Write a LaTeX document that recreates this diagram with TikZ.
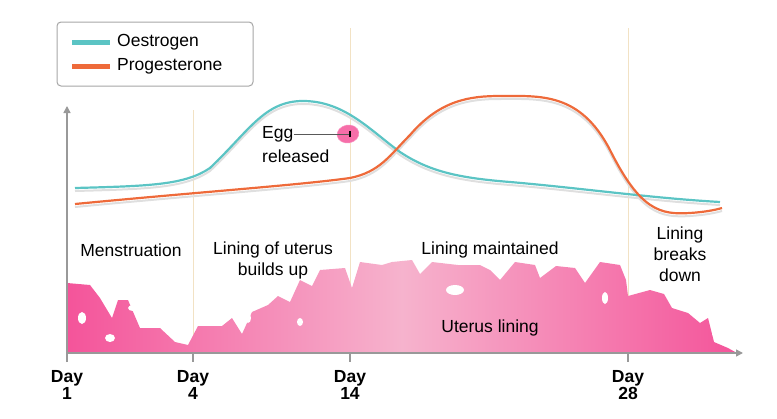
\documentclass[tikz,border=0pt]{standalone}
\usepackage{fontspec}
\setmainfont{Liberation Sans}
\usetikzlibrary{arrows.meta,shapes.geometric}
\definecolor{oes}{HTML}{5BC4C4}
\definecolor{pro}{HTML}{EE6A3A}
\definecolor{dpink}{HTML}{F4549A}
\definecolor{lpink}{HTML}{F6B3CD}
\definecolor{guide}{HTML}{F2E2C4}
\tikzset{lbl/.style={font=\fontsize{17.5}{21}\selectfont,align=center,inner sep=1pt},
 day/.style={font=\bfseries\fontsize{17.5}{15}\selectfont,align=center,inner sep=0pt},
 axis/.style={draw=gray!80,line width=1.5pt,-{Triangle[length=7pt,width=7pt]}}}
\begin{document}
\begin{tikzpicture}[x=1pt,y=-1pt]
\useasboundingbox (0,0) rectangle (777,418);
% guides
\draw[guide,line width=1pt] (193,110)--(193,353) (350,28)--(350,353) (628,28)--(628,353);
% uterus lining
\shade[left color=dpink,right color=dpink,middle color=lpink]
(67,353)--(67,283)--(90,285)--(100,298)--(112,318)--(118,300)--(128,300)--(140,328)--(160,328)--(175,342)--(188,345)--(198,326)--(222,326)--(232,318)--(242,334)--(252,312)--(268,305)--(278,296)--(290,302)--(300,280)--(312,286)--(320,270)--(345,268)--(352,288)--(360,262)--(382,265)--(392,262)--(412,260)--(420,274)--(432,262)--(458,265)--(480,265)--(490,270)--(500,280)--(515,262)--(535,265)--(540,278)--(556,266)--(575,268)--(585,283)--(600,262)--(620,265)--(626,280)--(628,296)--(650,290)--(664,294)--(672,308)--(688,313)--(700,323)--(708,318)--(714,342)--(728,348)--(737,353)--cycle;
\fill[white] (82,318) ellipse (4 and 6) (110,338) ellipse (5 and 4) (133,308) ellipse (5 and 3) (248,318) ellipse (3 and 5) (300,322) ellipse (3 and 4) (455,290) ellipse (9 and 5) (690,295) ellipse (5 and 4) (718,334) ellipse (6 and 3) (605,298) ellipse (3 and 6);
\node[lbl] (ul) at (490,328) {Uterus lining};
% axes
\coordinate (o) at (67,353);
\coordinate (yt) at (67,106);
\coordinate (xt) at (743,353);
\draw[axis] (67,362)--(yt);
\draw[axis] (o)--(xt);
\foreach \x in {193,350,628} \draw[gray!80,line width=1.5pt] (\x,353)--(\x,362);
\node[day] (d1) at (67,385) {Day\\1};
\node[day] (d4) at (193,385) {Day\\4};
\node[day] (d14) at (350,385) {Day\\14};
\node[day] (d28) at (628,385) {Day\\28};
% shadows
\draw[gray!25,line width=2pt,yshift=-3pt] (75,188) .. controls (150,186) and (185,185) .. (210,168) .. controls (250,130) and (265,100) .. (305,101) .. controls (345,102) and (370,130) .. (400,152) .. controls (430,172) and (460,178) .. (510,182) .. controls (580,188) and (650,198) .. (720,202);
\draw[gray!25,line width=2pt,yshift=-3pt] (75,204) .. controls (200,192) and (300,185) .. (350,178) .. controls (380,172) and (390,155) .. (410,135) .. controls (440,100) and (470,96) .. (500,96) .. controls (540,96) and (580,92) .. (610,150) .. controls (640,210) and (660,215) .. (690,213) .. controls (705,212) and (715,210) .. (722,208);
% curves
\draw[oes,line width=2.2pt] (75,188) .. controls (150,186) and (185,185) .. (210,168) .. controls (250,130) and (265,100) .. (305,101) .. controls (345,102) and (370,130) .. (400,152) .. controls (430,172) and (460,178) .. (510,182) .. controls (580,188) and (650,198) .. (720,202);
\draw[pro,line width=2.2pt] (75,204) .. controls (200,192) and (300,185) .. (350,178) .. controls (380,172) and (390,155) .. (410,135) .. controls (440,100) and (470,96) .. (500,96) .. controls (540,96) and (580,92) .. (610,150) .. controls (640,210) and (660,215) .. (690,213) .. controls (705,212) and (715,210) .. (722,208);
% egg
\node[fill=dpink!85,draw=dpink!60,ellipse,minimum width=22pt,minimum height=18pt,inner sep=0pt,rotate=10] (egg) at (348,134) {};
\node[lbl,anchor=west,inner sep=0pt] (eggt) at (262,134) {Egg};
\node[lbl,anchor=west,inner sep=0pt] (rel) at (262,156) {released};
\coordinate (ec) at (350,134);
\draw[gray!70!black,line width=0.8pt] (eggt.east)--(ec);
\fill[black] (349,131) rectangle (351,137);
% legend
\node[draw=gray!70,fill=white,rounded corners=4pt,line width=1pt,minimum width=196pt,minimum height=64pt] (leg) at (155,54) {};
\coordinate (l1a) at (72,42); \coordinate (l1b) at (110,42);
\coordinate (l2a) at (72,66); \coordinate (l2b) at (110,66);
\draw[oes,line width=5pt] (l1a)--(l1b);
\draw[pro,line width=5pt] (l2a)--(l2b);
\node[lbl,anchor=west] (lo) at (116,42) {Oestrogen};
\node[lbl,anchor=west] (lp) at (116,66) {Progesterone};
% labels
\node[lbl] (m) at (131,250) {Menstruation};
\node[lbl] (b) at (273,260) {Lining of uterus\\builds up};
\node[lbl] (lm) at (490,250) {Lining maintained};
\node[lbl] (bd) at (680,254) {Lining\\breaks\\down};
\end{tikzpicture}
\end{document}
